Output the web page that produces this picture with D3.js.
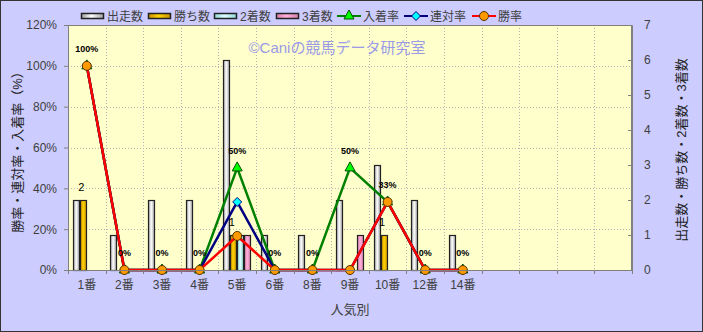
<!DOCTYPE html>
<html>
<head>
<meta charset="utf-8">
<script src="https://cdn.jsdelivr.net/npm/d3@7"></script>
<style>
body{margin:0;background:#fff;}
svg text{font-family:"Liberation Sans","Noto Sans CJK JP",sans-serif;}
</style>
</head>
<body>
<div id="chart"></div>
<script>
// 人気別 categories (15 slots on the axis, last 4 empty)
var categories = ["1番","2番","3番","4番","5番","6番","8番","9番","10番","12番","14番"];
var slotCount = 15;

var starts  = [2,1,2,2,6,1,1,2,3,2,1];   // 出走数
var wins    = [2,0,0,0,1,0,0,0,1,0,0];   // 勝ち数
var seconds = [0,0,0,0,1,0,0,0,0,0,0];   // 2着数
var thirds  = [0,0,0,0,1,0,0,1,0,0,0];   // 3着数

var placeRate = [1,0,0,0,0.5,0,0,0.5,0.3333,0,0];     // 入着率
var quinRate  = [1,0,0,0,0.3333,0,0,0,0.3333,0,0];    // 連対率
var winRate   = [1,0,0,0,0.1667,0,0,0,0.3333,0,0];    // 勝率

var leftTicks = [0,0.2,0.4,0.6,0.8,1.0,1.2];
var rightTicks = [0,1,2,3,4,5,6,7];

var W = 703, H = 332;
var plot = {left:68, right:632, top:25, bottom:270};

var svg = d3.select("#chart").append("svg")
	.attr("width",W).attr("height",H);

var defs = svg.append("defs");
function addGradient(id, edge, mid){
	var g = defs.append("linearGradient").attr("id",id)
		.attr("x1","0").attr("x2","1").attr("y1","0").attr("y2","0");
	g.append("stop").attr("offset","0%").attr("stop-color",edge);
	g.append("stop").attr("offset","45%").attr("stop-color",mid);
	g.append("stop").attr("offset","100%").attr("stop-color",edge);
}
addGradient("gStart","#a0a0a0","#ffffff");
addGradient("gWin","#c89000","#ffd400");
addGradient("gSecond","#8fd8d8","#e0ffff");
addGradient("gThird","#d880b0","#ffb0d8");

var barSeries = [
	{name:"出走数", values:starts, fill:"url(#gStart)"},
	{name:"勝ち数", values:wins, fill:"url(#gWin)"},
	{name:"2着数", values:seconds, fill:"url(#gSecond)"},
	{name:"3着数", values:thirds, fill:"url(#gThird)"}
];
var lineSeries = [
	{name:"入着率", values:placeRate, color:"#008000", marker:"triangle", mfill:"#00ff00"},
	{name:"連対率", values:quinRate, color:"#000080", marker:"diamond", mfill:"#00ffff"},
	{name:"勝率", values:winRate, color:"#ff0000", marker:"circle", mfill:"#ff9900"}
];

// background
svg.append("rect").attr("x",0.5).attr("y",0.5).attr("width",W-1).attr("height",H-1)
	.attr("fill","#ccccff").attr("stroke","#333333");
svg.append("rect").attr("x",plot.left).attr("y",plot.top)
	.attr("width",plot.right-plot.left).attr("height",plot.bottom-plot.top)
	.attr("fill","#ffffcc");

var x = d3.scaleBand().domain(d3.range(slotCount)).range([plot.left,plot.right]);
var xb = d3.scaleBand().domain(barSeries.map(s => s.name)).range([0,28]);
var yL = d3.scaleLinear().domain([0,1.2]).range([plot.bottom,plot.top]);
var yR = d3.scaleLinear().domain([0,7]).range([plot.bottom,plot.top]);
var cx = i => x(i) + x.bandwidth()/2;

// grid
var grid = svg.append("g").attr("stroke","#b4b4b4").attr("stroke-dasharray","1,2").attr("stroke-width",1);
leftTicks.slice(1,-1).forEach(t => {
	grid.append("line").attr("x1",plot.left).attr("x2",plot.right)
		.attr("y1",Math.round(yL(t))+0.5).attr("y2",Math.round(yL(t))+0.5);
});
d3.range(1,slotCount).forEach(i => {
	grid.append("line").attr("y1",plot.top).attr("y2",plot.bottom)
		.attr("x1",Math.round(x(i))+0.5).attr("x2",Math.round(x(i))+0.5);
});

// bars
barSeries.forEach(s => {
	var g = svg.append("g").attr("class","bars");
	s.values.forEach((d,i) => {
		if(d <= 0) return;
		g.append("rect")
			.attr("x",Math.round(x(i) + (x.bandwidth()-28)/2 + xb(s.name))+0.5)
			.attr("width",xb.bandwidth()-1)
			.attr("y",Math.round(yR(d))+0.5)
			.attr("height",Math.round(yR(0))-Math.round(yR(d)))
			.attr("fill",s.fill)
			.attr("stroke","#222")
			.attr("stroke-width",1.2);
	});
});

// 勝ち数 labels
wins.forEach((d,i) => {
	if(d <= 0) return;
	svg.append("text")
		.attr("x",x(i) + (x.bandwidth()-28)/2 + xb("勝ち数") + xb.bandwidth()/2 - 2)
		.attr("y",yR(d) - 9)
		.attr("text-anchor","middle")
		.attr("font-size",11).attr("fill","#000")
		.text(d);
});

// plot frame
svg.append("rect").attr("x",plot.left+0.5).attr("y",plot.top+0.5)
	.attr("width",plot.right-plot.left-1).attr("height",plot.bottom-plot.top)
	.attr("fill","none").attr("stroke","#808080");

// lines
function drawMarker(g, type, px, py, fill, stroke){
	if(type == "triangle"){
		g.append("path").attr("d",`M${px},${py-6}L${px+5},${py+3}L${px-5},${py+3}Z`)
			.attr("fill",fill).attr("stroke","#005000").attr("stroke-width",1);
	}
	else if(type == "diamond"){
		g.append("path").attr("d",`M${px},${py-4.5}L${px+4.5},${py}L${px},${py+4.5}L${px-4.5},${py}Z`)
			.attr("fill",fill).attr("stroke",stroke).attr("stroke-width",1);
	}
	else{
		g.append("circle").attr("cx",px).attr("cy",py).attr("r",4.5)
			.attr("fill",fill).attr("stroke","#553300").attr("stroke-width",1);
	}
}
var line = d3.line().x((d,i) => cx(i)).y(d => yL(d));
lineSeries.forEach(s => {
	var g = svg.append("g");
	g.append("path").datum(s.values).attr("d",line)
		.attr("fill","none").attr("stroke",s.color).attr("stroke-width",2.5);
	s.values.forEach((d,i) => drawMarker(g, s.marker, cx(i), yL(d), s.mfill, s.color));
});

// 入着率 data labels
placeRate.forEach((d,i) => {
	svg.append("text")
		.attr("x",cx(i)).attr("y",yL(d) - 14)
		.attr("text-anchor","middle")
		.attr("font-size",9).attr("font-weight","bold").attr("fill","#000")
		.text(Math.round(d*100) + "%");
});

// watermark
svg.append("text").attr("x",337).attr("y",53).attr("text-anchor","middle")
	.attr("font-size",15).attr("fill","#9a9ae6")
	.text("©Caniの競馬データ研究室");

// axes
var axisColor = "#404040";
var left = svg.append("g").attr("transform",`translate(${plot.left},0)`)
	.call(d3.axisLeft(yL).tickValues(leftTicks).tickFormat(d => Math.round(d*100)+"%").tickSize(4).tickPadding(7));
var right = svg.append("g").attr("transform",`translate(${plot.right},0)`)
	.call(d3.axisRight(yR).tickValues(rightTicks).tickFormat(d3.format("d")).tickSize(-4).tickPadding(12));
var bottom = svg.append("g").attr("transform",`translate(0,${plot.bottom})`)
	.call(d3.axisBottom(x).tickValues(d3.range(categories.length)).tickFormat(i => categories[i]).tickSize(0).tickPadding(10));
[left,right,bottom].forEach(a => {
	a.select(".domain").attr("stroke","#808080");
	a.selectAll(".tick line").attr("stroke","#808080");
	a.selectAll("text").attr("font-size",12).attr("fill",axisColor)
		.attr("font-family",'"Liberation Sans","Noto Sans CJK JP",sans-serif');
});
// small ticks on category boundaries
d3.range(0,slotCount+1).forEach(i => {
	var xx = Math.round(i < slotCount ? x(i) : plot.right)+0.5;
	svg.append("line").attr("x1",xx).attr("x2",xx).attr("y1",plot.bottom).attr("y2",plot.bottom+4)
		.attr("stroke","#808080");
});

svg.append("text").attr("x",350).attr("y",314).attr("text-anchor","middle")
	.attr("font-size",13).attr("fill",axisColor).text("人気別");
svg.append("text").attr("transform","translate(22,149) rotate(-90)").attr("text-anchor","middle")
	.attr("font-size",13).attr("fill","#222").text("勝率・連対率・入着率（%）");
svg.append("text").attr("transform","translate(686,150) rotate(-90)").attr("text-anchor","middle")
	.attr("font-size",13).attr("fill","#222").text("出走数・勝ち数・2着数・3着数");

// legend
var legendItems = [
	{name:"出走数", x:81, kind:"bar", fill:"url(#gStart)"},
	{name:"勝ち数", x:148, kind:"bar", fill:"url(#gWin)"},
	{name:"2着数", x:214, kind:"bar", fill:"url(#gSecond)"},
	{name:"3着数", x:276, kind:"bar", fill:"url(#gThird)"},
	{name:"入着率", x:337, kind:"line", s:lineSeries[0]},
	{name:"連対率", x:404, kind:"line", s:lineSeries[1]},
	{name:"勝率", x:472, kind:"line", s:lineSeries[2]}
];
var ly = 16;
legendItems.forEach(it => {
	var g = svg.append("g");
	if(it.kind == "bar"){
		g.append("rect").attr("x",it.x+0.5).attr("y",ly-2.5).attr("width",22).attr("height",5)
			.attr("fill",it.fill).attr("stroke","#222").attr("stroke-width",1.5);
	}
	else{
		g.append("line").attr("x1",it.x).attr("x2",it.x+24).attr("y1",ly).attr("y2",ly)
			.attr("stroke",it.s.color).attr("stroke-width",2);
		drawMarker(g, it.s.marker, it.x+12, ly, it.s.mfill, it.s.color);
	}
	g.append("text").attr("x",it.x+26).attr("y",ly+4.5)
		.attr("font-size",12).attr("fill",axisColor).text(it.name);
});
</script>
</body>
</html>
